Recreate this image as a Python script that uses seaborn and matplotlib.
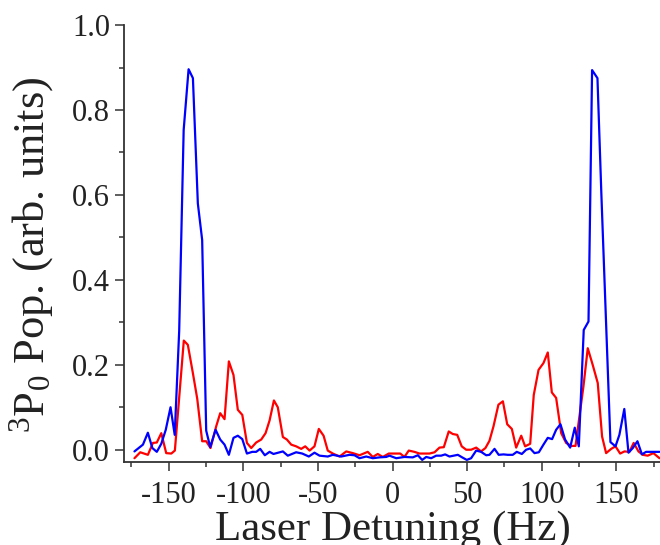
import pandas as pd
import matplotlib
matplotlib.use("Agg")
import matplotlib.pyplot as plt
import seaborn as sns
from matplotlib.ticker import MultipleLocator

# blue trace
blue_x = [-173, -167.3, -164, -161, -158, -155, -152, -148.8, -146, -143, -140,
          -136.7, -133.8, -130.5, -127.6, -124.9, -122.2, -118.6, -115.5, -112.6,
          -109.7, -106.6, -103.7, -100.7, -97.6, -94, -91.4, -88.7, -85.6, -82.4,
          -79.8, -73.5, -70.2, -64.6, -60.5, -56.1, -52.3, -48.9, -43.4, -40,
          -34.4, -28.8, -25.5, -22.1, -17.6, -13.2, -8.7, -4.2, -2.0, 2.5, 8.0,
          13.6, 17.0, 19.9, 22.6, 25.9, 29.3, 32.6, 35.3, 38.2, 43.8, 46.7, 49.8,
          52.7, 56.1, 59.4, 62.8, 65.0, 68.4, 71.2, 74.4, 77.3, 80.6, 83.3, 86.7,
          89.6, 92.3, 95.2, 98.1, 101.2, 104.1, 107.0, 109.7, 112.6, 115.7, 119.1,
          122.2, 124.9, 128.2, 131.4, 133.8, 137.4, 140.0, 146.1, 149.5, 152.1,
          155.4, 158.2, 161.1, 164.2, 167.2, 170.0, 175.6, 179.0]
blue_y = [-0.004, 0.012, 0.040, 0.004, -0.005, 0.014, 0.047, 0.100, 0.035, 0.28,
          0.753, 0.896, 0.875, 0.58, 0.494, 0.045, 0.006, 0.047, 0.024, 0.012,
          -0.012, 0.028, 0.033, 0.025, -0.009, -0.005, -0.005, 0.002, -0.013,
          -0.005, -0.010, -0.004, -0.014, -0.006, -0.009, -0.016, -0.007, -0.014,
          -0.016, -0.012, -0.016, -0.012, -0.013, -0.020, -0.016, -0.020, -0.018,
          -0.017, -0.014, -0.020, -0.017, -0.018, -0.013, -0.024, -0.017, -0.020,
          -0.014, -0.014, -0.011, -0.016, -0.012, -0.018, -0.024, -0.020, -0.002,
          -0.005, -0.013, -0.012, 0.002, -0.012, -0.011, -0.012, -0.012, -0.005,
          -0.010, 0.000, 0.003, -0.008, -0.006, 0.012, 0.028, 0.025, 0.047, 0.060,
          0.024, 0.005, 0.052, 0.008, 0.282, 0.302, 0.894, 0.875, 0.604, 0.018,
          0.008, 0.035, 0.096, -0.007, 0.004, 0.020, -0.011, -0.005, -0.005, -0.005]

# red trace
red_x = [-173, -169.1, -164, -160.6, -158, -155, -151.7, -148.3, -145.9, -139.9,
         -137.2, -133.8, -130.9, -127.6, -124.9, -122, -118.2, -115.5, -112.6,
         -109.7, -106.6, -103.7, -100.7, -97.6, -94.7, -91.4, -88, -85.1, -82.4,
         -79.5, -76.9, -73.5, -70.8, -67.9, -64.6, -61.2, -58.5, -55.6, -52.3,
         -49.4, -46.2, -43.4, -40, -35.5, -31, -26.6, -22.1, -16.6, -13.2, -9.9,
         -6.5, -2.5, 5.2, 8.0, 10.9, 14.7, 18.1, 24.8, 28.2, 31.5, 34.4, 37.7,
         40.4, 43.4, 46.4, 49.4, 52.7, 56.1, 59.4, 62.3, 65.0, 67.7, 71.0, 74.0,
         76.9, 80.0, 82.9, 86.3, 88.9, 92.3, 94.7, 97.9, 101.2, 104.1, 106.8,
         109.7, 113.1, 116.4, 119.8, 122.7, 125.3, 128.0, 130.9, 134.2, 137.6,
         140.5, 143.2, 146.6, 149.5, 152.6, 155.5, 158.8, 161.7, 164.9, 167.8,
         171.1, 174.9, 179.0]
red_y = [-0.020, -0.006, -0.012, 0.016, 0.017, 0.039, -0.008, -0.009, -0.002,
         0.257, 0.247, 0.180, 0.120, 0.020, 0.020, 0.004, 0.055, 0.086, 0.072,
         0.208, 0.176, 0.094, 0.082, 0.016, 0.004, 0.017, 0.024, 0.039, 0.069,
         0.116, 0.100, 0.030, 0.024, 0.012, 0.008, 0.002, 0.008, -0.002, 0.008,
         0.049, 0.033, -0.002, -0.009, -0.016, -0.004, -0.008, -0.013, -0.005,
         -0.017, -0.010, -0.017, -0.009, -0.009, -0.017, -0.002, -0.005, -0.009,
         -0.009, -0.006, 0.005, 0.006, 0.043, 0.037, 0.035, 0.008, 0.000, 0.000,
         0.005, -0.004, 0.004, 0.021, 0.055, 0.106, 0.114, 0.060, 0.049, 0.005,
         0.033, 0.008, 0.014, 0.129, 0.188, 0.204, 0.229, 0.135, 0.122, 0.039,
         0.016, 0.009, 0.009, 0.078, 0.149, 0.239, 0.200, 0.157, 0.031, -0.008,
         0.002, 0.008, -0.009, -0.004, -0.005, 0.016, -0.004, -0.012, -0.014,
         -0.008, -0.020]

df = pd.concat([
    pd.DataFrame({"detuning": red_x, "pop": red_y, "trace": "red"}),
    pd.DataFrame({"detuning": blue_x, "pop": blue_y, "trace": "blue"}),
])

sns.set_style("ticks")
plt.rcParams["font.family"] = ["Liberation Serif", "DejaVu Serif"]
plt.rcParams["mathtext.fontset"] = "custom"
plt.rcParams["mathtext.rm"] = "Liberation Serif"
plt.rcParams["mathtext.it"] = "Liberation Serif"
plt.rcParams["mathtext.default"] = "rm"
plt.rcParams["axes.unicode_minus"] = False

ink = "#222222"
fig = plt.figure(figsize=(6.6, 5.45), dpi=100)
ax = fig.add_axes([124 / 660, 0.153, 537 / 660, 0.801])

sns.lineplot(data=df, x="detuning", y="pop", hue="trace",
             palette={"red": "#ff0000", "blue": "#0000ff"},
             estimator=None, sort=True, legend=False, linewidth=1.6, ax=ax)

ax.set_xlim(-180, 180)
ax.set_ylim(-0.028, 1.0)
ax.xaxis.set_major_locator(MultipleLocator(50))
ax.xaxis.set_minor_locator(MultipleLocator(25))
ax.yaxis.set_major_locator(MultipleLocator(0.2))
ax.yaxis.set_minor_locator(MultipleLocator(0.1))
ax.set_yticklabels([f"{v:.1f}" for v in ax.get_yticks()])

ax.tick_params(which="major", length=6.5, width=1.1, color="#333333",
               labelsize=22, labelcolor=ink, pad=3.5)
ax.tick_params(axis="x", which="major", pad=7.5)
ax.tick_params(which="minor", length=3.5, width=1.1, color="#333333")

for side in ["top", "right"]:
    ax.spines[side].set_visible(False)
for side in ["left", "bottom"]:
    ax.spines[side].set_linewidth(1.3)
    ax.spines[side].set_color("#333333")

ax.set_xlabel("Laser Detuning (Hz)", fontsize=31, color=ink)
ax.xaxis.set_label_coords(0.5, -0.113)
ax.xaxis.label.set_va("top")
ax.set_ylabel(r"$^{3}$P$_{0}$ Pop. (arb. units)", fontsize=32, color=ink)
ax.yaxis.set_label_coords(-0.126, 0.474)

fig.savefig("out.png", dpi=100)
